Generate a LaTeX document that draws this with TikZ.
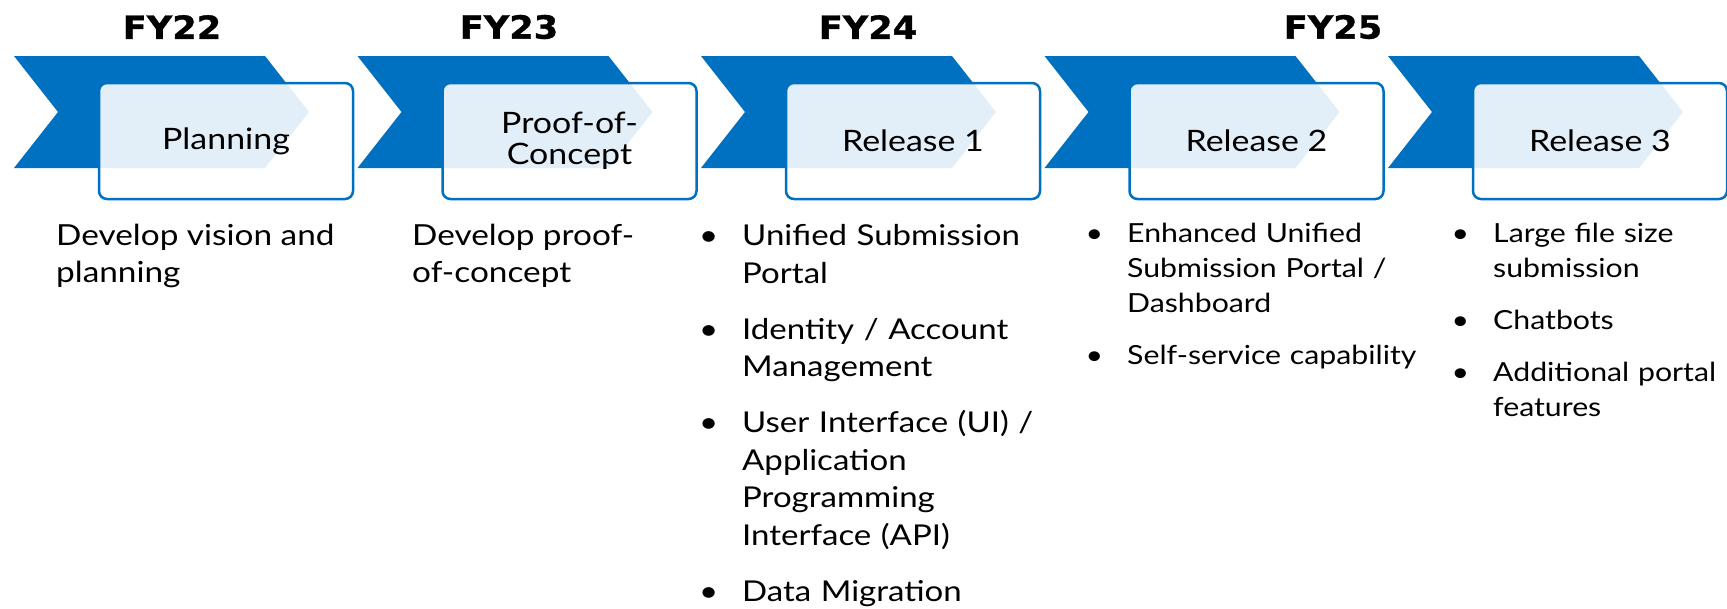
\documentclass[tikz,border=0pt]{standalone}
\usepackage{fontspec}
\setmainfont{Lato}[FakeStretch=1.15]
\newfontfamily\fyfont{DejaVu Sans}[FakeStretch=1.1, FakeBold=1]
\usepackage{enumitem}
\RequirePackage{xcolor}
\usetikzlibrary{positioning}

\definecolor{fyblue}{HTML}{0070C0}
\setlist[itemize]{label=\textbullet, leftmargin=33pt, labelsep=24pt,
  itemsep=17pt, topsep=0pt, partopsep=0pt, parsep=0pt}

\tikzset{
  chevron/.style={fill=fyblue},
  stage/.style={draw=fyblue, line width=2.5pt, rounded corners=8pt,
    fill=white, fill opacity=0.89, text opacity=1,
    minimum width=254pt, minimum height=116pt, align=center,
    font=\fontsize{29.5}{31}\selectfont},
  fylabel/.style={font=\fyfont\bfseries\fontsize{32}{32}\selectfont},
  desc/.style={anchor=base west, inner sep=0pt, align=left,
    font=\fontsize{29}{37}\selectfont},
  bullets/.style={anchor=north west, inner sep=0pt, align=left, text width=#1}
}

\begin{document}
\begin{tikzpicture}[x=1pt, y=-1pt]
  \useasboundingbox (0,0) rectangle (1727,608);

  % arrows behind the stages
  \foreach \i in {0,...,4}
    \fill[chevron, xshift=343.5*\i] (14,56) -- (265,56) -- (309,112)
      -- (265,168) -- (14,168) -- (58,112) -- cycle;

  \node[stage] (plan) at (226,141) {Planning};
  \node[stage, right=87pt of plan] (poc) {Proof-of-\\Concept};
  \node[stage, right=87pt of poc] (rel1) {Release 1};
  \node[stage, right=87pt of rel1] (rel2) {Release 2};
  \node[stage, right=87pt of rel2] (rel3) {Release 3};

  \node[fylabel] (fy22) at (172,27) {FY22};
  \node[fylabel] (fy23) at (509,27) {FY23};
  \node[fylabel] (fy24) at (868,27) {FY24};
  \node[fylabel] (fy25) at (1333,27) {FY25};

  % base is the last line here
  \node[desc] (plandesc) at (56,282) {Develop vision and\\planning};
  \node[desc] (pocdesc) at (412,282) {Develop proof-\\of-concept};

  \node[bullets=330pt, font=\fontsize{28.7}{37.5}\selectfont] (rel1list) at (709,208) {%
    \begin{itemize}[itemsep=18.5pt]
      \item Unified Submission\\Portal
      \item Identity / Account\\Management
      \item User Interface (UI) /\\Application\\Programming\\Interface (API)
      \item Data Migration
    \end{itemize}};
  \node[bullets=330pt, font=\fontsize{26.3}{35}\selectfont] (rel2list) at (1094,207) {%
    \begin{itemize}
      \item Enhanced Unified\\Submission Portal /\\Dashboard
      \item Self-service capability
    \end{itemize}};
  \node[bullets=265pt, font=\fontsize{26.3}{35}\selectfont] (rel3list) at (1460,207) {%
    \begin{itemize}
      \item Large file size\\submission
      \item Chatbots
      \item Additional portal\\features
    \end{itemize}};
\end{tikzpicture}
\end{document}
